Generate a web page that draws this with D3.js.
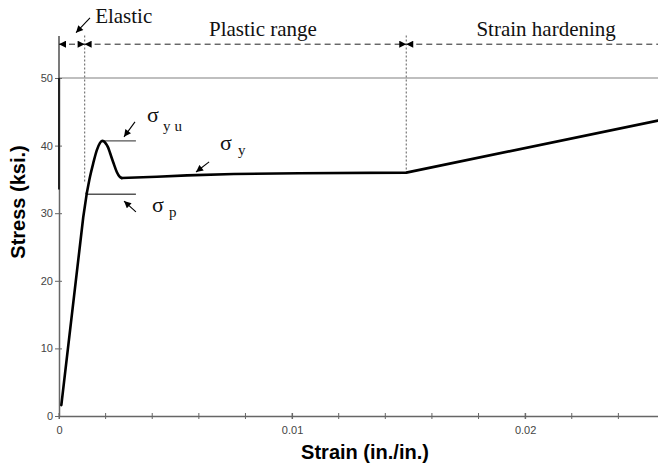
<!DOCTYPE html>
<html>
<head>
<meta charset="utf-8">
<script src="https://cdn.jsdelivr.net/npm/d3@7"></script>
<style>
  html, body { margin: 0; padding: 0; background: #fff; }
  svg { display: block; }
</style>
</head>
<body>
<svg id="chart" width="658" height="466"></svg>
<script>
// Stress-strain curve of mild steel (strain in in./in., stress in ksi)
const strain = [0.0001, 0.00104, 0.00119, 0.00133, 0.00147, 0.00162, 0.00176, 0.00185, 0.00194, 0.00203, 0.00211, 0.00219, 0.00233, 0.00248, 0.0026, 0.00269, 0.0042, 0.0055, 0.0075, 0.0103, 0.0149, 0.0257];
const stress = [1.6, 29.4, 32.9, 35.4, 37.4, 39.3, 40.4, 40.7, 40.6, 40.2, 39.7, 38.9, 37.5, 36.1, 35.4, 35.2, 35.4, 35.6, 35.8, 35.9, 36.0, 43.7];

// Characteristic points
const yieldUpper = 40.7;      // sigma_yu
const propLimit = 32.8;       // sigma_p
const elasticLimitStrain = 0.0011;
const plasticEndStrain = 0.0149;

// Axes
const xTicks = [0, 0.01, 0.02];
const xMinorTicks = d3.range(0, 0.0257, 0.002);
const yTicks = [0, 10, 20, 30, 40, 50];

// Range annotations along the top
const rangeNames = ["Elastic", "Plastic range", "Strain hardening"];

const svg = d3.select("#chart");
const W = 658, H = 466;

const x = d3.scaleLinear().domain([0, 0.0257]).range([59, 658]);
const y = d3.scaleLinear().domain([0, 50]).range([416, 78]);

const axisGray = "#666";

// arrowhead markers
const defs = svg.append("defs");
function marker(id, orient) {
  defs.append("marker")
    .attr("id", id)
    .attr("viewBox", "0 0 10 10")
    .attr("refX", 10).attr("refY", 5)
    .attr("markerWidth", 8).attr("markerHeight", 7)
    .attr("markerUnits", "userSpaceOnUse")
    .attr("orient", orient)
    .append("path").attr("d", "M0,0 L10,5 L0,10 Z").attr("fill", "#000");
}
marker("arr", "auto");
marker("arrS", "auto-start-reverse");

// top gridline at 50 ksi
svg.append("line")
  .attr("x1", x(0)).attr("x2", W)
  .attr("y1", y(50)).attr("y2", y(50))
  .attr("stroke", "#aaa").attr("stroke-width", 1.6);

// y axis
const yAxis = d3.axisLeft(y).tickValues(yTicks).tickSize(4).tickSizeOuter(0).tickFormat(d3.format("d"));
const gy = svg.append("g").attr("transform", `translate(${x(0)},0)`).call(yAxis);
gy.select(".domain").attr("stroke", axisGray).attr("stroke-width", 1.5);
gy.selectAll(".tick line").attr("stroke", axisGray).attr("x2", 3).attr("x1", -4);
gy.selectAll(".tick text")
  .attr("x", -6)
  .attr("font-family", "'Liberation Sans Narrow', 'Liberation Sans', Arial, sans-serif")
  .attr("font-size", 11).attr("fill", "#444");

// darker run of the y axis at the upper part
svg.append("line")
  .attr("x1", x(0)).attr("x2", x(0))
  .attr("y1", y(50)).attr("y2", y(33.5))
  .attr("stroke", "#222").attr("stroke-width", 2);

// x axis
const xAxis = d3.axisBottom(x).tickValues(xTicks).tickSize(4).tickSizeOuter(0)
  .tickFormat(d => d === 0 ? "0" : d3.format(".2f")(d));
const gx = svg.append("g").attr("transform", `translate(0,${y(0)})`).call(xAxis);
gx.select(".domain").attr("stroke", axisGray).attr("stroke-width", 1.5);
gx.selectAll(".tick line").attr("stroke", axisGray).attr("y1", -3).attr("y2", 3);
gx.selectAll(".tick text")
  .attr("y", 10)
  .attr("font-family", "'Liberation Sans Narrow', 'Liberation Sans', Arial, sans-serif")
  .attr("font-size", 11).attr("fill", "#444");
gx.selectAll(".minor").data(xMinorTicks).enter().append("line")
  .attr("class", "minor")
  .attr("x1", d => x(d)).attr("x2", d => x(d))
  .attr("y1", -3).attr("y2", 3)
  .attr("stroke", axisGray).attr("stroke-width", 1);

// axis titles
svg.append("text")
  .attr("x", 365).attr("y", 459)
  .attr("text-anchor", "middle")
  .attr("font-family", "'Liberation Sans', Arial, sans-serif")
  .attr("font-weight", "bold").attr("font-size", 20)
  .text("Strain (in./in.)");
svg.append("text")
  .attr("transform", "translate(25,202) rotate(-90)")
  .attr("text-anchor", "middle")
  .attr("font-family", "'Liberation Sans', Arial, sans-serif")
  .attr("font-weight", "bold").attr("font-size", 20)
  .text("Stress (ksi.)");

// range boundaries (dotted verticals)
const dotted = { stroke: "#777", dash: "2,2" };
svg.append("line")
  .attr("x1", x(elasticLimitStrain)).attr("x2", x(elasticLimitStrain))
  .attr("y1", y(56.3)).attr("y2", y(34.5))
  .attr("stroke", dotted.stroke).attr("stroke-width", 1.2).attr("stroke-dasharray", dotted.dash);
svg.append("line")
  .attr("x1", x(plasticEndStrain)).attr("x2", x(plasticEndStrain))
  .attr("y1", y(56.3)).attr("y2", y(36.0))
  .attr("stroke", dotted.stroke).attr("stroke-width", 1.2).attr("stroke-dasharray", dotted.dash);

// left extension line
svg.append("line")
  .attr("x1", x(0)).attr("x2", x(0))
  .attr("y1", y(56.2)).attr("y2", y(50))
  .attr("stroke", "#222").attr("stroke-width", 1.2);

// dimension lines
const dimY = y(55);
const segs = [
  { a: 0, b: elasticLimitStrain, end: true },
  { a: elasticLimitStrain, b: plasticEndStrain, end: true },
  { a: plasticEndStrain, b: 0.0262, end: false }
];
segs.forEach(s => {
  svg.append("line")
    .attr("x1", x(s.a)).attr("x2", x(s.b))
    .attr("y1", dimY).attr("y2", dimY)
    .attr("stroke", "#222").attr("stroke-width", 1)
    .attr("stroke-dasharray", "6,4")
    .attr("marker-start", "url(#arrS)")
    .attr("marker-end", s.end ? "url(#arr)" : null);
});

// range labels
const serif = "'Liberation Serif', 'Times New Roman', serif";
svg.append("text").attr("x", x(0.00155)).attr("y", y(58.1))
  .attr("font-family", serif).attr("font-size", 21).attr("fill", "#111")
  .text(rangeNames[0]);
svg.append("text").attr("x", x(0.00875)).attr("y", y(56.2))
  .attr("text-anchor", "middle")
  .attr("font-family", serif).attr("font-size", 21).attr("fill", "#111")
  .text(rangeNames[1]);
svg.append("text").attr("x", x(0.0209)).attr("y", y(56.2))
  .attr("text-anchor", "middle")
  .attr("font-family", serif).attr("font-size", 21).attr("fill", "#111")
  .text(rangeNames[2]);

function pointer(s0, v0, s1, v1) {
  svg.append("line")
    .attr("x1", x(s0)).attr("y1", y(v0))
    .attr("x2", x(s1)).attr("y2", y(v1))
    .attr("stroke", "#000").attr("stroke-width", 1.1)
    .attr("marker-end", "url(#arr)");
}
// pointer for "Elastic"
pointer(0.00133, 58.9, 0.00073, 56.7);

// level lines for sigma_yu and sigma_p
svg.append("line")
  .attr("x1", x(0.00185)).attr("x2", x(0.0033))
  .attr("y1", y(yieldUpper)).attr("y2", y(yieldUpper))
  .attr("stroke", "#555").attr("stroke-width", 1.3);
svg.append("line")
  .attr("x1", x(0.00119)).attr("x2", x(0.0033))
  .attr("y1", y(propLimit)).attr("y2", y(propLimit))
  .attr("stroke", "#555").attr("stroke-width", 1.3);

// the curve: straight elastic run, rounded yield hump, straight plateau and hardening
const pts = strain.map((s, i) => [s, stress[i]]);
const iHumpStart = 2, iTrough = 15;
const line = d3.line().x(d => x(d[0])).y(d => y(d[1]));
const pieces = [
  { data: pts.slice(0, iHumpStart + 1), curve: d3.curveLinear },
  { data: pts.slice(iHumpStart, iTrough + 1), curve: d3.curveMonotoneX },
  { data: pts.slice(iTrough), curve: d3.curveLinear }
];
pieces.forEach(p => {
  svg.append("path")
    .datum(p.data)
    .attr("fill", "none")
    .attr("stroke", "#000")
    .attr("stroke-width", 2.6)
    .attr("stroke-linejoin", "round")
    .attr("stroke-linecap", "round")
    .attr("d", line.curve(p.curve)(p.data));
});

// sigma pointers and labels
pointer(0.00326, 43.5, 0.00279, 41.3);
pointer(0.00644, 37.6, 0.00588, 36.1);
pointer(0.0033, 30.2, 0.00279, 31.8);

function sigma(s, v, sub, subS, subV) {
  svg.append("text").attr("x", x(s)).attr("y", y(v))
    .attr("font-family", serif).attr("font-size", 22).attr("fill", "#111")
    .text("σ");
  svg.append("text").attr("x", x(subS)).attr("y", y(subV))
    .attr("font-family", serif).attr("font-size", 15).attr("fill", "#111")
    .attr("letter-spacing", 4)
    .text(sub);
}
sigma(0.00378, 43.5, "yu", 0.00446, 42.2);
sigma(0.00691, 39.3, "y", 0.00768, 38.6);
sigma(0.00399, 30.2, "p", 0.00472, 29.4);
</script>
</body>
</html>
